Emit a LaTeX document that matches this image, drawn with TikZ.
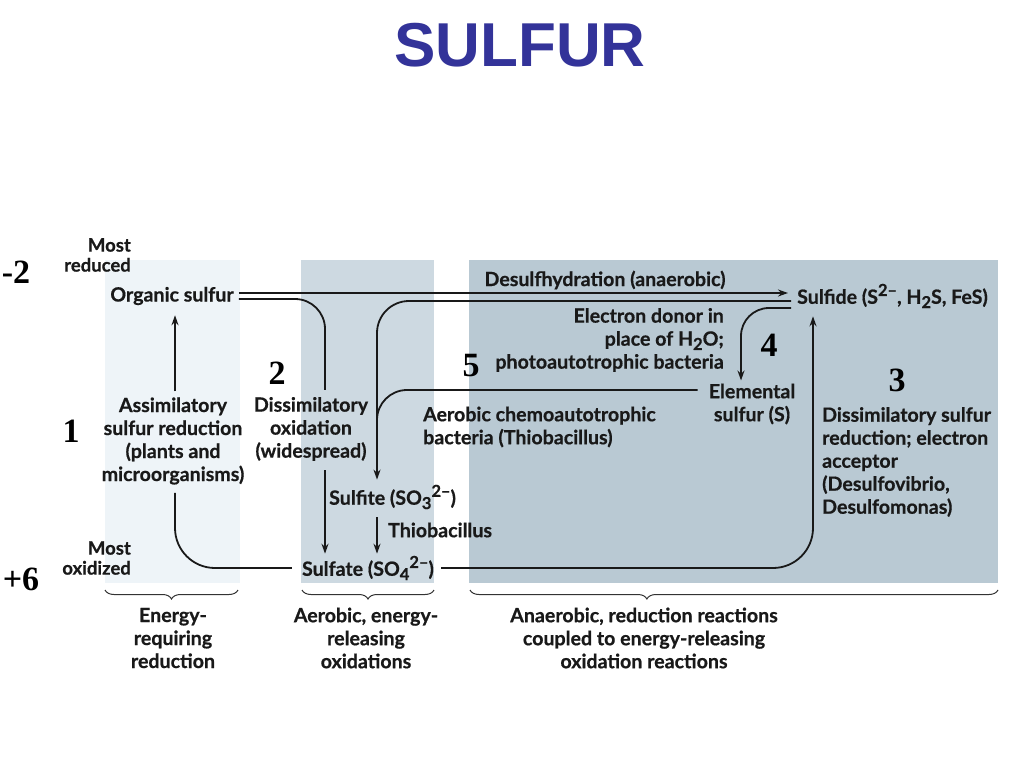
\documentclass[tikz,border=0pt]{standalone}
\usepackage{fontspec}
\setmainfont{Lato}[BoldFeatures={FakeBold=0.6}]
\newfontfamily\numfont{Liberation Serif}
\newfontfamily\titlefont{Liberation Sans}
\usetikzlibrary{arrows.meta,calc,decorations.pathreplacing}
\definecolor{titleblue}{HTML}{333399}
\definecolor{pone}{HTML}{EEF4F8}
\definecolor{ptwo}{HTML}{CDD9E1}
\definecolor{pthree}{HTML}{B9C9D3}
\newcommand\mysub[1]{\raisebox{-0.22em}{\fontsize{16.5}{16.5}\selectfont #1}}
\newcommand\mysup[1]{\raisebox{0.40em}{\fontsize{16.5}{16.5}\selectfont #1}}
\begin{document}
\begin{tikzpicture}[x=1pt,y=-1pt,
  lbl/.style={font=\bfseries\fontsize{19.6}{23}\selectfont, inner sep=0pt, text=black!90},
  side/.style={font=\bfseries\fontsize{18.5}{20}\selectfont, inner sep=0pt, align=right, anchor=east, text=black!90},
  num/.style={font=\numfont\bfseries\fontsize{34}{34}\selectfont, inner sep=0pt},
  ln/.style={line width=1.8pt, draw=black!90},
  arr/.style={ln, -{Stealth[length=10pt,width=7pt]}},
  brc/.style={draw=black!80, line width=1pt, decorate, decoration={brace, mirror, amplitude=9pt}},
]
\useasboundingbox (0,0) rectangle (1024,768);
\fill[white] (0,0) rectangle (1024,768);
% panels
\fill[pone] (105,260) rectangle (240,583);
\fill[ptwo] (301,260) rectangle (434,583);
\fill[pthree] (469,260) rectangle (998,583);
% title
\node[font=\titlefont\bfseries\fontsize{62}{62}\selectfont, text=titleblue, inner sep=0pt] (title) at (520,45) {SULFUR};
% side labels
\node[side] (mostred) at (131,255) {Most\\reduced};
\node[side] (mostox) at (131,558) {Most\\oxidized};
\node[num] (nm2) at (16,272) {-2};
\node[num] (np6) at (21,579) {+6};
\node[num] (n1) at (71,431) {1};
\node[num] (n2) at (277,373) {2};
\node[num] (n5) at (471,366) {5};
\node[num] (n4) at (769,345) {4};
\node[num] (n3) at (897,380) {3};
% main labels
\node[lbl] (org) at (172,296) {Organic sulfur};
\node[lbl] (desulf) at (605,280) {Desulfhydration (anaerobic)};
\node[lbl, anchor=west] (sulfide) at (797,296) {Sulfide (S\mysup{2–}, H\mysub{2}S, FeS)};
\node[lbl, anchor=east, align=right] (edonor) at (724,340) {Electron donor in\\place of H\mysub{2}O;\\photoautotrophic bacteria};
\node[lbl, align=center] (elem) at (752,404) {Elemental\\sulfur (S)};
\node[lbl, anchor=west, align=left] (aerobic) at (423,427) {Aerobic chemoautotrophic\\bacteria (Thiobacillus)};
\node[lbl, align=center] (assim) at (173,441) {Assimilatory\\sulfur reduction\\(plants and\\microorganisms)};
\node[lbl, align=center] (dissox) at (311,429) {Dissimilatory\\oxidation\\(widespread)};
\node[lbl, anchor=west] (sulfite) at (329,497) {Sulfite (SO\mysub{3}\mysup{2–})};
\node[lbl, anchor=west] (thio) at (388,530) {Thiobacillus};
\node[lbl] (sulfate) at (368,568) {Sulfate (SO\mysub{4}\mysup{2–})};
\node[lbl, anchor=west, align=left] (dissred) at (822,462) {Dissimilatory sulfur\\reduction; electron\\acceptor\\(Desulfovibrio,\\Desulfomonas)};
% bottom labels
\node[lbl, align=center] (lab1) at (173,638) {Energy-\\requiring\\reduction};
\node[lbl, align=center] (lab2) at (366,638) {Aerobic, energy-\\releasing\\oxidations};
\node[lbl, align=center] (lab3) at (644,638) {Anaerobic, reduction reactions\\coupled to energy-releasing\\oxidation reactions};
% braces
\draw[brc] (105,590) -- (238,590);
\draw[brc] (302,590) -- (434,590);
\draw[brc, decoration={brace, mirror, amplitude=9pt, aspect=0.335}] (470,590) -- (998,590);
% helper x positions
\coordinate (ax) at (175,0);
\coordinate (bx) at (325,0);
\coordinate (cx) at (377,0);
\coordinate (fx) at (741,0);
\coordinate (tx) at (813,0);
\coordinate (dm) at (377,432);
% connectors
\draw[arr] ([xshift=5pt,yshift=3pt]org.east) -- ([xshift=-9pt,yshift=3pt]sulfide.west);
\draw[ln, rounded corners=30pt] ([xshift=5pt,yshift=-3pt]org.east) -| ($(bx |- dissox.north)+(0pt,7pt)$);
\draw[arr] ($(bx |- dissox.south)+(0pt,-9pt)$) -- ($(bx |- sulfate.north)+(0pt,2pt)$);
\draw[arr, rounded corners=32pt] ([xshift=-6pt,yshift=-5pt]sulfide.west) -| ($(cx |- sulfite.north)+(0pt,5pt)$);
\draw[ln, rounded corners=30pt] ([xshift=-11pt,yshift=14pt]elem.west) -| (dm);
\draw[arr] ($(cx |- sulfite.south)+(0pt,-8pt)$) -- ($(cx |- sulfate.north)+(0pt,2pt)$);
\draw[arr] ($(ax |- assim.north)+(0pt,6pt)$) -- ($(ax |- org.south)+(0pt,-10pt)$);
\draw[arr, rounded corners=28pt] ([xshift=-6pt,yshift=-12pt]sulfide.west) -| ($(fx |- elem.north)+(0pt,3pt)$);
\draw[arr, rounded corners=40pt] ([xshift=7pt]sulfate.east) -| ($(tx |- sulfide.south)+(0pt,-8pt)$);
\draw[ln, rounded corners=40pt] ($(ax |- assim.south)+(0pt,-8pt)$) |- ([xshift=-10pt]sulfate.west);
\end{tikzpicture}
\end{document}
